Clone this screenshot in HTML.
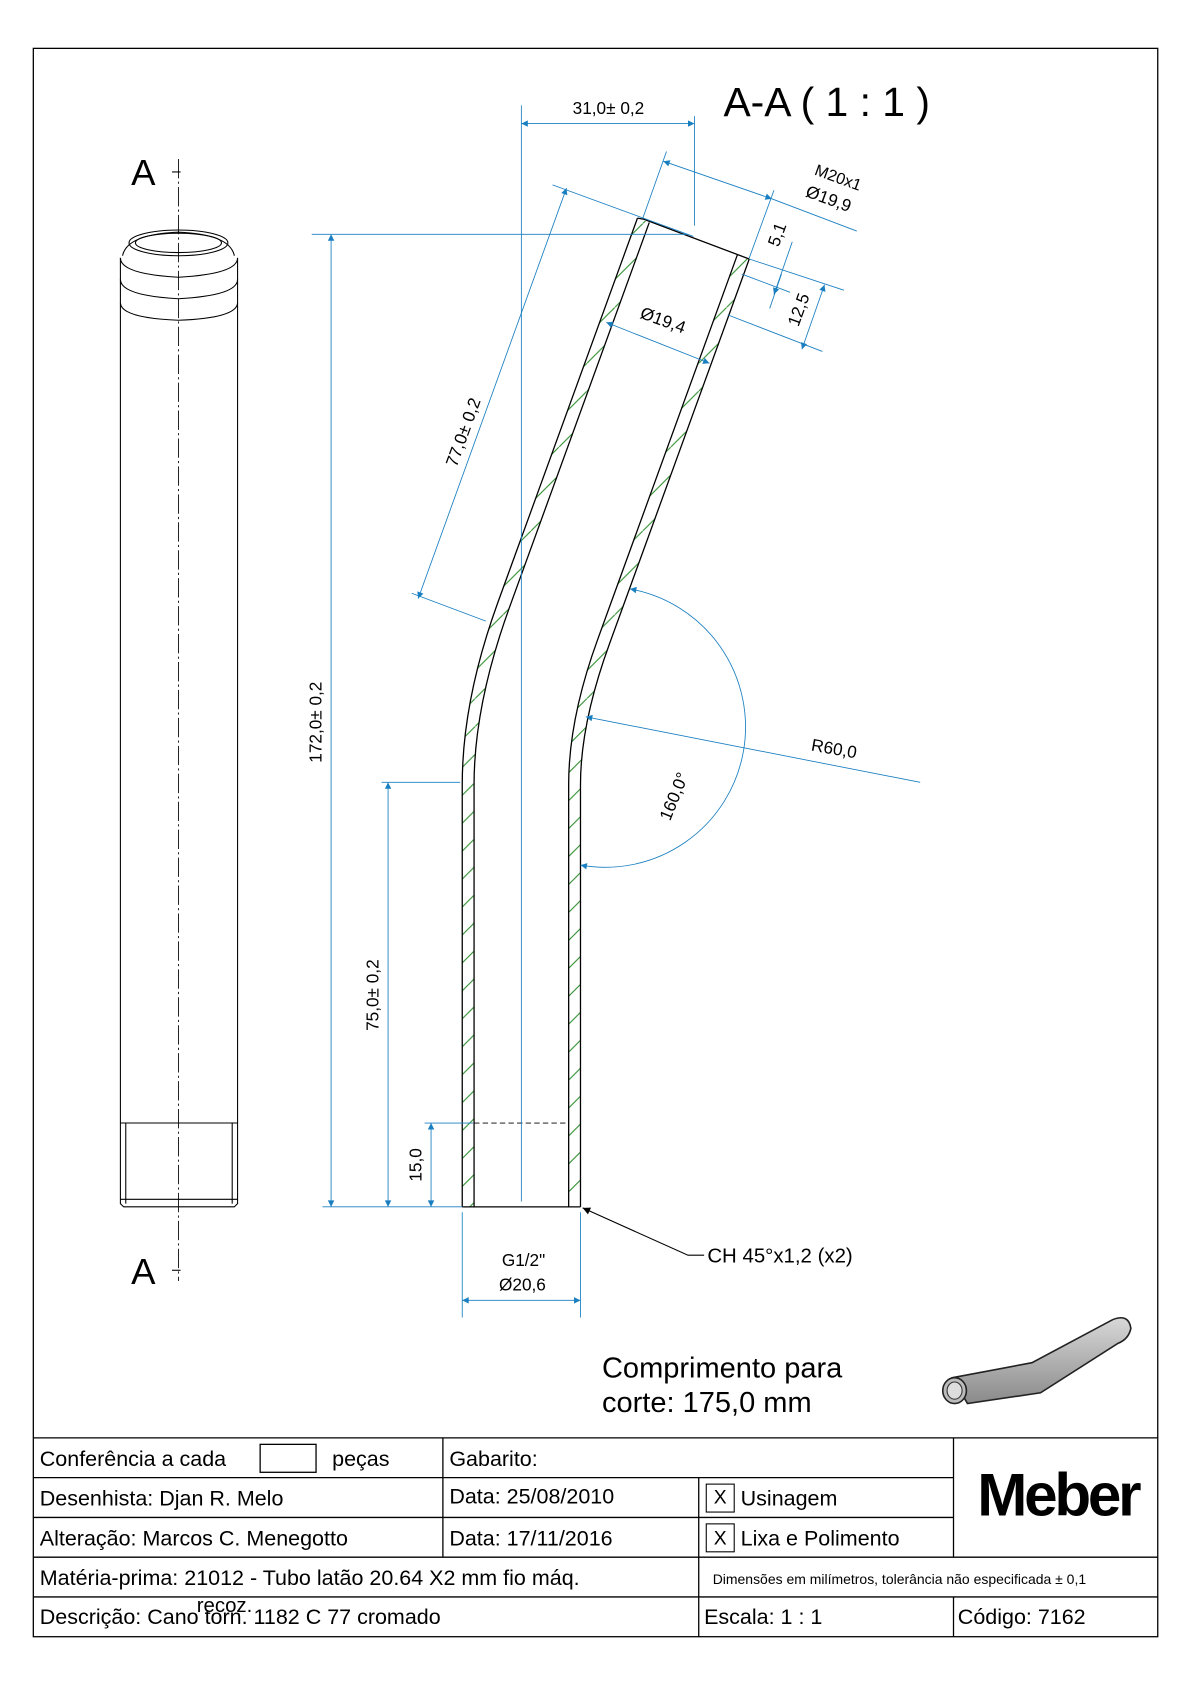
<!DOCTYPE html>
<html><head><meta charset="utf-8"><style>
html,body{margin:0;padding:0;background:#fff;}
svg{display:block;}
text{font-family:"Liberation Sans",Arial,sans-serif;}
</style></head><body>
<svg width="1190" height="1684" viewBox="0 0 1107 1567" preserveAspectRatio="none" xmlns="http://www.w3.org/2000/svg">
<defs>
<pattern id="h" patternUnits="userSpaceOnUse" width="26" height="26">
<line x1="0" y1="26" x2="26" y2="0" stroke="#2a8a2a" stroke-width="1"/>
</pattern>
<marker id="a" viewBox="0 0 10 10" refX="10" refY="5" markerWidth="10" markerHeight="6" orient="auto-start-reverse" markerUnits="userSpaceOnUse">
<path d="M0,0 L10,5 L0,10 z" fill="#1a7fc1"/>
</marker>
<marker id="k" viewBox="0 0 10 10" refX="10" refY="5" markerWidth="12" markerHeight="7" orient="auto" markerUnits="userSpaceOnUse">
<path d="M0,0 L10,5 L0,10 z" fill="#000"/>
</marker>
<linearGradient id="g" x1="0" y1="0" x2="0" y2="1"><stop offset="0" stop-color="#d8d8d8"/><stop offset="1" stop-color="#8a8a8a"/></linearGradient>
</defs>
<rect x="31" y="45" width="1046" height="1478" fill="none" stroke="#000" stroke-width="1.2"/>

<!-- Left view -->
<g fill="none" stroke="#000" stroke-width="1">
<line x1="166" y1="148" x2="166" y2="1192" stroke-dasharray="18,3,2,3" stroke-width="0.8"/>
<line x1="160" y1="160" x2="168" y2="160"/><line x1="160" y1="1182" x2="168" y2="1182"/>
<path d="M114,238 Q118,218 166,216 Q214,218 218,238"/>
<ellipse cx="166" cy="226" rx="46" ry="12"/>
<ellipse cx="166" cy="226" rx="40" ry="9"/>
<path d="M112,240 L112,1120 L115,1123 L218,1123 L221,1120 L221,240"/>
<path d="M112,240 Q112,255 166,258 Q221,255 221,240"/>
<path d="M112,260 Q112,275 166,278 Q221,275 221,260"/>
<path d="M112,282 Q113,296 166,298 Q220,296 221,282"/>
<line x1="112" y1="1045" x2="221" y2="1045"/>
<line x1="117" y1="1045" x2="117" y2="1120"/><line x1="216" y1="1045" x2="216" y2="1120"/>
<line x1="112" y1="1116" x2="221" y2="1116"/>
</g>
<text x="122" y="172" font-size="34">A</text>
<text x="122" y="1195" font-size="34">A</text>

<!-- Section walls -->
<path d="M430,1123 L430,730 Q430,652 463,561 L593,203 L604,207 L474,565 Q441,656 441,730 L441,1123 Z" fill="url(#h)" stroke="none"/>
<path d="M529,1123 L529,730 Q529,669 556,595 L686,237 L697,241 L567,599 Q540,673 540,730 L540,1123 Z" fill="url(#h)" stroke="none"/>
<g fill="none" stroke="#000" stroke-width="1.2">
<path d="M430,1123 L430,730 Q430,652 463,561 L593,203"/>
<path d="M441,1123 L441,730 Q441,656 474,565 L604,207"/>
<path d="M529,1123 L529,730 Q529,669 556,595 L686,237"/>
<path d="M540,1123 L540,730 Q540,673 567,599 L697,241"/>
<path d="M593,203 L599,204 L697,241"/>
<line x1="430" y1="1123" x2="540" y2="1123"/>
<line x1="441" y1="1045" x2="529" y2="1045" stroke-dasharray="5,3" stroke-width="0.8"/>
</g>

<!-- Dimensions -->
<g stroke="#1a7fc1" stroke-width="0.8" fill="none">
<line x1="485" y1="98" x2="485" y2="1118"/>
<line x1="646" y1="108" x2="646" y2="210"/>
<line x1="485" y1="115" x2="646" y2="115" marker-start="url(#a)" marker-end="url(#a)"/>
<line x1="290" y1="218" x2="640" y2="218"/>
<line x1="300" y1="1123" x2="430" y2="1123"/>
<line x1="308" y1="218" x2="308" y2="1123" marker-start="url(#a)" marker-end="url(#a)"/>
<line x1="355" y1="728" x2="428" y2="728"/>
<line x1="361" y1="728" x2="361" y2="1123" marker-start="url(#a)" marker-end="url(#a)"/>
<line x1="395" y1="1045" x2="440" y2="1045"/>
<line x1="401" y1="1045" x2="401" y2="1123" marker-start="url(#a)" marker-end="url(#a)"/>
<line x1="430" y1="1128" x2="430" y2="1226"/><line x1="540" y1="1128" x2="540" y2="1226"/>
<line x1="430" y1="1210" x2="540" y2="1210" marker-start="url(#a)" marker-end="url(#a)"/>
<line x1="514" y1="172" x2="645" y2="220"/>
<line x1="383" y1="552" x2="452" y2="578"/>
<line x1="389" y1="557" x2="527" y2="175" marker-start="url(#a)" marker-end="url(#a)"/>
<line x1="598" y1="203" x2="620" y2="141"/>
<line x1="697" y1="240" x2="720" y2="177"/>
<line x1="617" y1="150" x2="718" y2="185" marker-start="url(#a)" marker-end="url(#a)"/>
<line x1="718" y1="185" x2="797" y2="215"/>
<line x1="697" y1="241" x2="785" y2="270"/>
<line x1="690" y1="255" x2="735" y2="272"/>
<line x1="677" y1="293" x2="765" y2="327"/>
<line x1="737" y1="225" x2="720" y2="274" marker-end="url(#a)"/>
<line x1="727" y1="255" x2="716" y2="287" />
<line x1="767" y1="265" x2="746" y2="325" marker-start="url(#a)" marker-end="url(#a)"/>
<line x1="564" y1="300" x2="660" y2="338" marker-start="url(#a)" marker-end="url(#a)"/>
<line x1="856" y1="728" x2="545" y2="667" marker-end="url(#a)"/>
<path d="M540,805 A130,130 0 0 0 586,548" marker-start="url(#a)" marker-end="url(#a)"/>
</g>
<g fill="#000">
<text x="566" y="106" font-size="16" text-anchor="middle">31,0± 0,2</text>
<text x="673" y="108" font-size="38">A-A ( 1 : 1 )</text>
<text transform="translate(299,672) rotate(-90)" font-size="16" text-anchor="middle">172,0± 0,2</text>
<text transform="translate(352,926) rotate(-90)" font-size="16" text-anchor="middle">75,0± 0,2</text>
<text transform="translate(392,1084) rotate(-90)" font-size="16" text-anchor="middle">15,0</text>
<text x="487" y="1178" font-size="16" text-anchor="middle">G1/2"</text>
<text x="486" y="1201" font-size="16" text-anchor="middle">Ø20,6</text>
<text transform="translate(436,404) rotate(-70)" font-size="16" text-anchor="middle">77,0± 0,2</text>
<text transform="translate(778,170) rotate(20)" font-size="15" text-anchor="middle">M20x1</text>
<text transform="translate(769,190) rotate(20)" font-size="16" text-anchor="middle">Ø19,9</text>
<text transform="translate(728,220) rotate(-70)" font-size="16" text-anchor="middle">5,1</text>
<text transform="translate(748,290) rotate(-70)" font-size="16" text-anchor="middle">12,5</text>
<text transform="translate(615,303) rotate(20)" font-size="16" text-anchor="middle">Ø19,4</text>
<text transform="translate(775,702) rotate(10)" font-size="16" text-anchor="middle">R60,0</text>
<text transform="translate(632,743) rotate(-68)" font-size="16" text-anchor="middle">160,0°</text>
<text x="658" y="1175" font-size="19">CH 45°x1,2 (x2)</text>
<text x="560" y="1282" font-size="27">Comprimento para</text>
<text x="560" y="1314" font-size="27">corte: 175,0 mm</text>
</g>
<polyline points="655,1168 640,1168 542,1124" fill="none" stroke="#000" stroke-width="1" marker-end="url(#k)"/>

<path d="M886,1282 L960,1268 L1035,1228 Q1050,1222 1052,1236 Q1050,1246 1040,1250 L968,1296 L900,1306 Z" fill="url(#g)" stroke="#222" stroke-width="1.5"/>
<ellipse cx="888" cy="1294" rx="11" ry="12" fill="#bbb" stroke="#222" stroke-width="1.5"/>
<ellipse cx="888" cy="1294" rx="7" ry="8" fill="#ddd" stroke="#333"/>

<g stroke="#000" stroke-width="1.2" fill="none">
<line x1="31" y1="1338" x2="1077" y2="1338"/>
<line x1="31" y1="1375" x2="887" y2="1375"/>
<line x1="31" y1="1412" x2="887" y2="1412"/>
<line x1="31" y1="1449" x2="1077" y2="1449"/>
<line x1="31" y1="1486" x2="1077" y2="1486"/>
<line x1="412" y1="1338" x2="412" y2="1449"/>
<line x1="650" y1="1375" x2="650" y2="1523"/>
<line x1="887" y1="1338" x2="887" y2="1449"/>
<line x1="887" y1="1486" x2="887" y2="1523"/>
<rect x="242" y="1344" width="52" height="26"/>
<rect x="657" y="1381" width="26" height="26" stroke-width="1"/>
<rect x="657" y="1418" width="26" height="26" stroke-width="1"/>
</g>
<g fill="#000" font-size="20">
<text x="37" y="1364">Conferência a cada</text>
<text x="309" y="1364">peças</text>
<text x="418" y="1364">Gabarito:</text>
<text x="37" y="1401">Desenhista: Djan R. Melo</text>
<text x="418" y="1399">Data: 25/08/2010</text>
<text x="664" y="1399" font-size="18">X</text>
<text x="689" y="1401">Usinagem</text>
<text x="37" y="1438">Alteração: Marcos C. Menegotto</text>
<text x="418" y="1438">Data: 17/11/2016</text>
<text x="664" y="1437" font-size="18">X</text>
<text x="689" y="1438">Lixa e Polimento</text>
<text x="37" y="1475">Matéria-prima: 21012 - Tubo latão 20.64 X2 mm fio máq.</text>
<text x="183" y="1500" font-size="19">recoz.</text>
<text x="663" y="1474" font-size="13">Dimensões em milímetros, tolerância não especificada ± 0,1</text>
<text x="37" y="1511">Descrição: Cano torn. 1182 C 77 cromado</text>
<text x="655" y="1511">Escala: 1 : 1</text>
<text x="891" y="1511">Código: 7162</text>
<text x="984" y="1410" font-size="56" font-weight="bold" text-anchor="middle" letter-spacing="-3">Meber</text>
</g>
</svg>
</body></html>
